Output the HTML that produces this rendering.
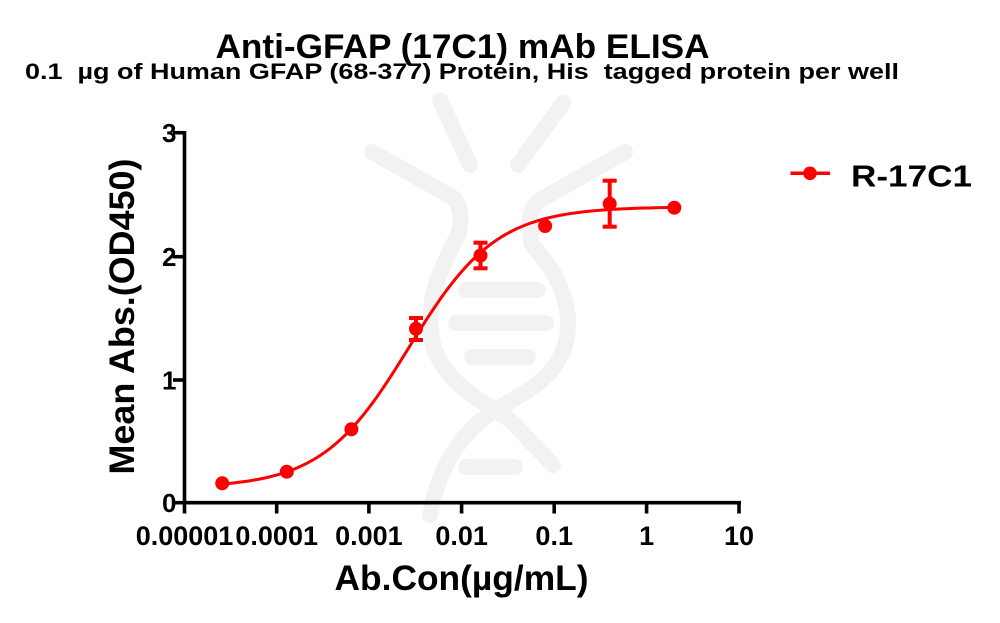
<!DOCTYPE html>
<html>
<head>
<meta charset="utf-8">
<style>
  html, body { margin: 0; padding: 0; background: #ffffff; }
  body { width: 1000px; height: 623px; overflow: hidden; }
  svg { display: block; }
  text { font-family: "Liberation Sans", Arial, sans-serif; font-weight: bold; fill: #000; }
</style>
</head>
<body>
<svg width="1000" height="623" viewBox="0 0 1000 623" xmlns="http://www.w3.org/2000/svg">
  <rect x="0" y="0" width="1000" height="623" fill="#ffffff"/>

  <!-- watermark -->
  <g fill="none" stroke="#f2f2f2" stroke-width="16" stroke-linecap="round" stroke-linejoin="round">
    <path d="M440,100 L470,165"/>
    <path d="M563,103 L518,165"/>
    <path d="M372,152 L452,197 C462,205 462,222 458,235 C440,270 425,300 432,340 C440,380 480,400 510,420 L553,465"/>
    <path d="M625,152 L540,200 C528,210 528,225 532,245 C560,275 575,310 565,345 C555,380 520,395 495,410 C465,430 440,460 430,515"/>
    <path d="M466,290 L538,290"/>
    <path d="M456,323 L546,323"/>
    <path d="M472,357 L528,357"/>
    <path d="M466,467 L515,467"/>
  </g>

  <!-- titles -->
  <text x="462.5" y="58" font-size="34" text-anchor="middle" textLength="494" lengthAdjust="spacingAndGlyphs">Anti-GFAP (17C1) mAb ELISA</text>
  <text x="462" y="79" font-size="22.5" text-anchor="middle" textLength="874" lengthAdjust="spacingAndGlyphs">0.1&#160; µg of Human GFAP (68-377) Protein, His&#160; tagged protein per well</text>

  <!-- axes -->
  <g stroke="#000" stroke-width="3.6" fill="none" stroke-linecap="butt">
    <line x1="184.5" y1="131" x2="184.5" y2="504.5"/>
    <line x1="182.7" y1="502.7" x2="741" y2="502.7"/>
    <line x1="173" y1="132.7" x2="184.5" y2="132.7"/>
    <line x1="173" y1="256.7" x2="184.5" y2="256.7"/>
    <line x1="173" y1="380" x2="184.5" y2="380"/>
    <line x1="173" y1="502.7" x2="184.5" y2="502.7"/>
    <line x1="184.5" y1="502.7" x2="184.5" y2="513.5"/>
    <line x1="276.7" y1="502.7" x2="276.7" y2="513.5"/>
    <line x1="368.9" y1="502.7" x2="368.9" y2="513.5"/>
    <line x1="461.6" y1="502.7" x2="461.6" y2="513.5"/>
    <line x1="554.2" y1="502.7" x2="554.2" y2="513.5"/>
    <line x1="646.6" y1="502.7" x2="646.6" y2="513.5"/>
    <line x1="739" y1="502.7" x2="739" y2="513.5"/>
  </g>

  <!-- y tick labels -->
  <g font-size="26" text-anchor="end">
    <text x="176.5" y="142.2">3</text>
    <text x="176.5" y="266.2">2</text>
    <text x="176.5" y="389.5">1</text>
    <text x="176.5" y="512">0</text>
  </g>

  <!-- x tick labels -->
  <g font-size="27" text-anchor="middle">
    <text x="184.5" y="545">0.00001</text>
    <text x="276.7" y="545">0.0001</text>
    <text x="368.9" y="545">0.001</text>
    <text x="461.6" y="545">0.01</text>
    <text x="554.2" y="545">0.1</text>
    <text x="646.6" y="545">1</text>
    <text x="739" y="545">10</text>
  </g>

  <!-- axis titles -->
  <text x="461.5" y="590" font-size="35" text-anchor="middle" textLength="254" lengthAdjust="spacingAndGlyphs">Ab.Con(µg/mL)</text>
  <text transform="translate(134,316.5) rotate(-90)" x="0" y="0" font-size="35" text-anchor="middle" textLength="316" lengthAdjust="spacingAndGlyphs">Mean Abs.(OD450)</text>

  <!-- fitted curve (static fallback, replaced by script with smooth version) -->
  <polyline id="fit" fill="none" stroke="#ff0000" stroke-width="3" stroke-linejoin="round" stroke-linecap="round"
    points="222.2,483.05 239.9,481.2 258.4,478.4 276.9,474.2 295.4,468.0 313.9,459.0 332.3,446.3 350.8,429.15 369.3,407.1 387.8,380.7 406.3,351.4 424.7,321.7 443.2,294.2 461.7,270.7 480.2,252.0 498.7,238.0 517.1,227.9 535.6,220.97 554.1,216.2 572.6,213.0 591.1,210.85 609.5,209.45 628.0,208.5 646.5,207.9 674.3,207.4"/>

  <!-- error bars -->
  <g stroke="#ff0000" stroke-width="4" fill="none">
    <line x1="416" y1="318" x2="416" y2="340"/>
    <line x1="409" y1="318" x2="423" y2="318"/>
    <line x1="409" y1="340" x2="423" y2="340"/>

    <line x1="480.5" y1="242.7" x2="480.5" y2="268.3"/>
    <line x1="473.5" y1="242.7" x2="487.5" y2="242.7"/>
    <line x1="473.5" y1="268.3" x2="487.5" y2="268.3"/>

    <line x1="609.7" y1="180.7" x2="609.7" y2="226.7"/>
    <line x1="602.7" y1="180.7" x2="616.7" y2="180.7"/>
    <line x1="602.7" y1="226.7" x2="616.7" y2="226.7"/>
  </g>

  <!-- data points -->
  <g fill="#ff0000">
    <circle cx="222.2" cy="483.3" r="7"/>
    <circle cx="286.8" cy="471.7" r="7"/>
    <circle cx="351.4" cy="429.3" r="7"/>
    <circle cx="416" cy="328.8" r="7"/>
    <circle cx="480.5" cy="255.5" r="7"/>
    <circle cx="545.1" cy="226" r="7"/>
    <circle cx="609.7" cy="203.8" r="7"/>
    <circle cx="674.3" cy="207.7" r="7"/>
  </g>

  <!-- legend -->
  <line x1="790.5" y1="173.3" x2="830" y2="173.3" stroke="#ff0000" stroke-width="3.5"/>
  <circle cx="810" cy="173.3" r="6.8" fill="#ff0000"/>
  <text x="851" y="186.7" font-size="31" textLength="121" lengthAdjust="spacingAndGlyphs">R-17C1</text>
</svg>
<script>
(function(){
  var B=0.12, T=2.40, logEC=-2.57, h=0.92;
  var pts=[];
  var L0=Math.log10(0.0000256), L1=Math.log10(2);
  var n=120;
  for(var i=0;i<=n;i++){
    var L=L0+(L1-L0)*i/n;
    var v=B+(T-B)/(1+Math.pow(10,(logEC-L)*h));
    var x=184.5+(L+5)*92.4;
    var y=502.7-v*123.3;
    pts.push(x.toFixed(2)+","+y.toFixed(2));
  }
  document.getElementById("fit").setAttribute("points",pts.join(" "));
})();
</script>
</body>
</html>
